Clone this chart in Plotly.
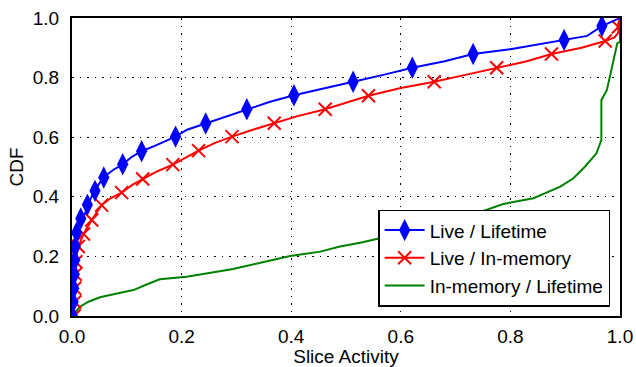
import plotly.graph_objects as go

# ---- data ----
live_lifetime_x = [0, 0.001, 0.002, 0.003, 0.004, 0.005, 0.008, 0.015, 0.024, 0.03, 0.04, 0.057,
                   0.075, 0.0925, 0.11, 0.127, 0.15, 0.189, 0.21, 0.244, 0.28, 0.319, 0.36, 0.405,
                   0.46, 0.513, 0.57, 0.621, 0.68, 0.732, 0.8, 0.898, 0.94, 0.967, 0.987, 1.0]
live_lifetime_y = [0, 0.05, 0.1, 0.15, 0.2, 0.25, 0.28, 0.32, 0.345, 0.378, 0.417, 0.465,
                   0.49, 0.509, 0.535, 0.553, 0.57, 0.602, 0.625, 0.646, 0.67, 0.694, 0.718, 0.741,
                   0.765, 0.786, 0.81, 0.833, 0.855, 0.879, 0.895, 0.926, 0.94, 0.973, 0.988, 1.0]
live_lifetime_mx = [0.001, 0.002, 0.003, 0.004, 0.005, 0.006, 0.0085, 0.016, 0.028, 0.042, 0.058,
                    0.0925, 0.127, 0.189, 0.244, 0.319, 0.405, 0.513, 0.621, 0.732, 0.898, 0.967]
live_lifetime_my = [0.0, 0.047, 0.093, 0.14, 0.187, 0.233, 0.28, 0.327, 0.373, 0.42, 0.465,
                    0.509, 0.553, 0.602, 0.646, 0.694, 0.741, 0.786, 0.833, 0.879, 0.926, 0.973]

live_mem_x = [0, 0.003, 0.004, 0.005, 0.006, 0.0115, 0.021, 0.036, 0.054, 0.07, 0.0906, 0.11,
              0.129, 0.155, 0.184, 0.21, 0.231, 0.26, 0.292, 0.33, 0.369, 0.41, 0.462, 0.5,
              0.541, 0.6, 0.661, 0.72, 0.775, 0.83, 0.875, 0.93, 0.973, 0.99, 0.997, 0.997, 1.0]
live_mem_y = [0, 0.05, 0.1, 0.14, 0.18, 0.233, 0.275, 0.322, 0.372, 0.395, 0.414, 0.44,
              0.46, 0.485, 0.508, 0.535, 0.555, 0.58, 0.602, 0.625, 0.647, 0.67, 0.694, 0.715,
              0.739, 0.765, 0.786, 0.81, 0.833, 0.855, 0.879, 0.9, 0.923, 0.935, 0.951, 0.983, 1.0]
live_mem_mx = [0.004, 0.005, 0.005, 0.006, 0.007, 0.0115, 0.021, 0.036, 0.054, 0.0906, 0.129,
               0.184, 0.231, 0.292, 0.369, 0.462, 0.541, 0.661, 0.775, 0.875, 0.973, 0.997]
live_mem_my = [0.0, 0.047, 0.093, 0.14, 0.182, 0.233, 0.275, 0.322, 0.372, 0.414, 0.46,
               0.508, 0.555, 0.602, 0.647, 0.694, 0.739, 0.786, 0.833, 0.879, 0.923, 0.97]

mem_lifetime_x = [0, 0.005, 0.0146, 0.03, 0.051, 0.08, 0.112, 0.135, 0.16, 0.209, 0.25, 0.294,
                  0.34, 0.398, 0.453, 0.489, 0.526, 0.574, 0.62, 0.68, 0.726, 0.787, 0.842, 0.891,
                  0.915, 0.936, 0.957, 0.966, 0.966, 0.976, 0.985, 0.991, 0.995, 1.0, 1.0]
mem_lifetime_y = [0, 0.012, 0.031, 0.048, 0.063, 0.075, 0.087, 0.105, 0.123, 0.132, 0.145, 0.158,
                  0.177, 0.201, 0.216, 0.233, 0.246, 0.265, 0.285, 0.31, 0.337, 0.376, 0.395, 0.434,
                  0.462, 0.501, 0.546, 0.59, 0.725, 0.758, 0.836, 0.892, 0.915, 0.92, 1.0]

tick_vals = [0.0, 0.2, 0.4, 0.6, 0.8, 1.0]
tick_text = ["0.0", "0.2", "0.4", "0.6", "0.8", "1.0"]

BLUE = "#0000ff"
RED = "#ff0000"
GREEN = "#008000"
FONT = "Liberation Sans, Arial, Helvetica, sans-serif"

fig = go.Figure()

# green curve
fig.add_trace(go.Scatter(x=mem_lifetime_x, y=mem_lifetime_y, mode="lines",
                         line=dict(color=GREEN, width=2), showlegend=False))
# red curve + markers
fig.add_trace(go.Scatter(x=live_mem_x, y=live_mem_y, mode="lines",
                         line=dict(color=RED, width=2), showlegend=False))
fig.add_trace(go.Scatter(x=live_mem_mx, y=live_mem_my, mode="markers",
                         marker=dict(symbol="x-thin", size=13, color=RED,
                                     line=dict(color=RED, width=2)), showlegend=False))
# blue curve + markers
fig.add_trace(go.Scatter(x=live_lifetime_x, y=live_lifetime_y, mode="lines",
                         line=dict(color=BLUE, width=2), showlegend=False))
fig.add_trace(go.Scatter(x=live_lifetime_mx, y=live_lifetime_my, mode="markers",
                         marker=dict(symbol="diamond-tall", size=16, color=BLUE,
                                     line=dict(width=0)), showlegend=False))

# legend entries
fig.add_trace(go.Scatter(x=[None], y=[None], mode="lines+markers", name="Live / Lifetime",
                         line=dict(color=BLUE, width=2),
                         marker=dict(symbol="diamond-tall", size=16, color=BLUE, line=dict(width=0))))
fig.add_trace(go.Scatter(x=[None], y=[None], mode="lines+markers", name="Live / In-memory",
                         line=dict(color=RED, width=2),
                         marker=dict(symbol="x-thin", size=13, color=RED,
                                     line=dict(color=RED, width=2))))
fig.add_trace(go.Scatter(x=[None], y=[None], mode="lines", name="In-memory / Lifetime",
                         line=dict(color=GREEN, width=2)))

axis_common = dict(
    range=[0, 1], tickvals=tick_vals, ticktext=tick_text, automargin=False,
    showline=True, linecolor="black", linewidth=2, mirror=True,
    showgrid=True, gridcolor="black", gridwidth=1, griddash="1.5px,6px",
    zeroline=False, ticks="outside", tickcolor="rgba(0,0,0,0)",
    tickfont=dict(family=FONT, size=19, color="black"),
)

fig.update_layout(
    width=636, height=367,
    margin=dict(l=72, r=16, t=18, b=51),
    paper_bgcolor="white", plot_bgcolor="white",
    font=dict(family=FONT, size=19, color="black"),
    xaxis=dict(axis_common, ticklen=2,
               title=dict(text="Slice Activity", font=dict(family=FONT, size=19), standoff=8)),
    yaxis=dict(axis_common, ticklen=7,
               title=dict(text="CDF", font=dict(family=FONT, size=19), standoff=4)),
    legend=dict(x=0.982, y=0.031, xanchor="right", yanchor="bottom",
                bgcolor="white", bordercolor="black", borderwidth=1.5,
                font=dict(family=FONT, size=19, color="black"),
                itemwidth=40, tracegroupgap=0),
    showlegend=True,
)

fig.write_html("out.html")
